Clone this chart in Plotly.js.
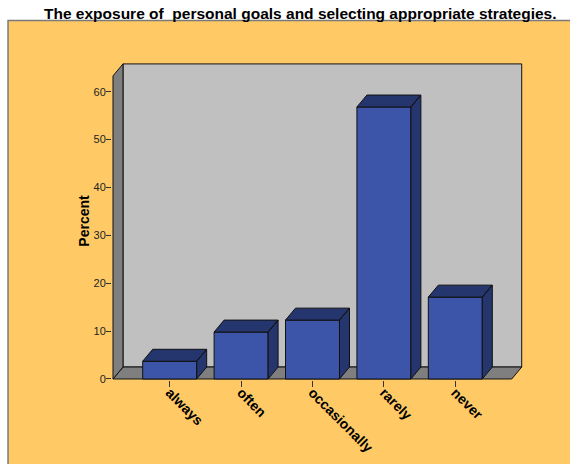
<!DOCTYPE html>
<html>
<head>
<meta charset="utf-8">
<script src="https://cdn.plot.ly/plotly-3.0.1.min.js"></script>
<style>html,body{margin:0;padding:0;background:#fff;}#chart{width:570px;height:464px;}</style>
</head>
<body>
<div id="chart"></div>
<script>
// ---- data ----
var categories = ["always", "often", "occasionally", "rarely", "never"];
var percents = [3.7, 9.8, 12.3, 56.8, 17.1];
var yTickVals = [0, 10, 20, 30, 40, 50, 60];
var titleText = "The exposure of  personal goals and selecting appropriate strategies.";

// ---- style constants (3D look) ----
var FRONT = "#3d55a8", DARK = "#25356d", WALL = "#c0c0c0", SIDE = "#7f7f7f", ORANGE = "#ffca66";
var HW = 0.378;      // half bar width (category units)
var DX = 0.14;       // depth offset in x (category units)
var DY = 2.5;        // depth offset in y (percent units)
var XL = -0.794, XR = 4.79, YTOP = 65.8;

var xs = categories.map(function (c, i) { return i; });

// top & side faces
var fx = [], fy = [];
xs.forEach(function (x, i) {
  var v = percents[i];
  fx.push(x + HW, x + HW + DX, x + HW + DX, x + HW, x + HW, null);
  fy.push(0, DY, v + DY, v, 0, null);
  fx.push(x - HW, x - HW + DX, x + HW + DX, x + HW, x - HW, null);
  fy.push(v, v + DY, v + DY, v, v, null);
});

var traces = [
  {
    type: "bar", x: xs, y: percents, width: 2 * HW,
    marker: { color: FRONT, line: { color: "#111", width: 1 } },
    hoverinfo: "skip"
  },
  {
    type: "scatter", mode: "lines", x: fx, y: fy, fill: "toself",
    fillcolor: DARK, line: { color: "#111", width: 1 }, hoverinfo: "skip"
  }
];

var shapes = [
  { type: "rect", xref: "paper", yref: "paper", x0: -0.253, x1: 1.15, y0: -0.3, y1: 1.1303,
    fillcolor: ORANGE, line: { color: "#7a7a7a", width: 1.5 }, layer: "below" },
  { type: "rect", xref: "x", yref: "y", x0: XL + DX, x1: XR + DX, y0: DY, y1: YTOP,
    fillcolor: WALL, line: { color: "#111", width: 1 }, layer: "below" },
  { type: "path", xref: "x", yref: "y",
    path: "M" + XL + ",0 L" + (XL + DX) + "," + DY + " L" + (XR + DX) + "," + DY + " L" + XR + ",0 Z",
    fillcolor: SIDE, line: { color: "#111", width: 1 }, layer: "below" },
  { type: "path", xref: "x", yref: "y",
    path: "M" + XL + ",0 L" + XL + "," + (YTOP - DY) + " L" + (XL + DX) + "," + YTOP + " L" + (XL + DX) + "," + DY + " Z",
    fillcolor: SIDE, line: { color: "#111", width: 1 }, layer: "below" }
];

var FONT = "Liberation Sans, Arial, sans-serif";
var layout = {
  width: 570, height: 464,
  margin: { l: 112, r: 47, t: 62, b: 83.5, pad: 0 },
  paper_bgcolor: "#ffffff",
  plot_bgcolor: "rgba(0,0,0,0)",
  showlegend: false,
  font: { family: FONT, color: "#000" },
  title: { text: titleText, font: { family: FONT, size: 15.5, weight: "bold", color: "#000" },
           xref: "paper", x: 0.458, xanchor: "center", yref: "container", y: 0.97, yanchor: "middle" },
  xaxis: {
    range: [-0.808, 4.948], tickmode: "array", tickvals: xs, ticktext: categories,
    tickangle: 45, ticks: "outside", ticklen: 6, tickcolor: "#333", tickwidth: 1,
    ticklabelstandoff: -8,
    showgrid: false, zeroline: false, showline: false, fixedrange: true,
    tickfont: { family: FONT, size: 14, weight: "bold", color: "#000" }
  },
  yaxis: {
    range: [-0.21, 66.2], tickmode: "array", tickvals: yTickVals,
    ticks: "outside", ticklen: 5, tickcolor: "#333", tickwidth: 1,
    ticklabelstandoff: -2,
    showgrid: false, zeroline: false, showline: false, fixedrange: true,
    tickfont: { family: FONT, size: 11, color: "#222" },
    title: { text: "Percent", font: { family: FONT, size: 14, weight: "bold", color: "#000" }, standoff: 0 }
  },
  shapes: shapes
};

Plotly.newPlot("chart", traces, layout, { staticPlot: true, displayModeBar: false });
</script>
</body>
</html>
